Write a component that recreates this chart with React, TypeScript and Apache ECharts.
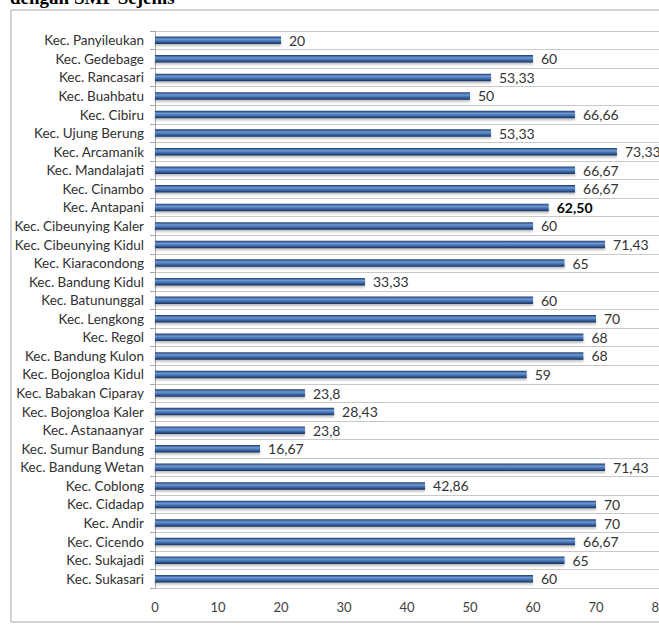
import React, { useEffect, useRef } from "react";
import * as echarts from "echarts";

const categories = [
  "Kec. Panyileukan", "Kec. Gedebage", "Kec. Rancasari", "Kec. Buahbatu", "Kec. Cibiru",
  "Kec. Ujung Berung", "Kec. Arcamanik", "Kec. Mandalajati", "Kec. Cinambo", "Kec. Antapani",
  "Kec. Cibeunying Kaler", "Kec. Cibeunying Kidul", "Kec. Kiaracondong", "Kec. Bandung Kidul", "Kec. Batununggal",
  "Kec. Lengkong", "Kec. Regol", "Kec. Bandung Kulon", "Kec. Bojongloa Kidul", "Kec. Babakan Ciparay",
  "Kec. Bojongloa Kaler", "Kec. Astanaanyar", "Kec. Sumur Bandung", "Kec. Bandung Wetan", "Kec. Coblong",
  "Kec. Cidadap", "Kec. Andir", "Kec. Cicendo", "Kec. Sukajadi", "Kec. Sukasari",
];
const values = [
  20, 60, 53.33, 50, 66.66,
  53.33, 73.33, 66.67, 66.67, 62.5,
  60, 71.43, 65, 33.33, 60,
  70, 68, 68, 59, 23.8,
  28.43, 23.8, 16.67, 71.43, 42.86,
  70, 70, 66.67, 65, 60,
];
const valueLabels = [
  "20", "60", "53,33", "50", "66,66",
  "53,33", "73,33", "66,67", "66,67", "62,50",
  "60", "71,43", "65", "33,33", "60",
  "70", "68", "68", "59", "23,8",
  "28,43", "23,8", "16,67", "71,43", "42,86",
  "70", "70", "66,67", "65", "60",
];
const boldIndex = 9;
const titleText = "dengan SMP Sejenis";

export default function App() {
  const ref = useRef<HTMLDivElement>(null);
  useEffect(() => {
    if (!ref.current) return;
    const chart = echarts.init(ref.current, null, { renderer: "svg" });
    const barColor = new echarts.graphic.LinearGradient(0, 0, 0, 1, [
      { offset: 0, color: "#1e3d70" },
      { offset: 0.35, color: "#6d98d3" },
      { offset: 0.65, color: "#3f6cae" },
      { offset: 1, color: "#172f58" },
    ]);
    chart.setOption({
      animation: false,
      backgroundColor: "#ffffff",
      graphic: [
        {
          type: "rect",
          shape: { x: 11, y: 10, width: 700, height: 612 },
          style: { fill: "none", stroke: "#c6c6c6", lineWidth: 1.5 },
          z: -1,
        },
        {
          type: "text",
          x: 10,
          y: -12,
          style: {
            text: titleText,
            font: "bold 19px 'Liberation Serif', serif",
            fill: "#000000",
          },
        },
      ],
      grid: {
        left: 155,
        right: 0,
        top: 31,
        bottom: 38,
        containLabel: false,
        outerBoundsMode: "none",
      },
      xAxis: {
        type: "value",
        min: 0,
        max: 80,
        interval: 10,
        axisLine: { show: false },
        axisTick: { show: false },
        splitLine: { show: false },
        axisLabel: {
          color: "#404040",
          fontFamily: "Lato",
          fontSize: 13,
          margin: 12,
          hideOverlap: false,
        },
      },
      yAxis: {
        type: "category",
        inverse: true,
        data: categories,
        axisLine: { show: true, lineStyle: { color: "#a8a8a8", width: 1 } },
        axisTick: { show: true, length: 5, lineStyle: { color: "#a8a8a8" } },
        splitLine: { show: true, lineStyle: { color: "#c8c8c8", width: 1.2 } },
        axisLabel: { color: "#303030", fontFamily: "Lato", fontSize: 13.5, margin: 11 },
      },
      series: [
        {
          type: "bar",
          barWidth: 7.5,
          data: values.map((v, i) =>
            i === boldIndex
              ? { value: v, label: { fontWeight: "bold", color: "#000" } }
              : v
          ),
          itemStyle: {
            color: barColor,
            shadowColor: "rgba(0,0,0,0.25)",
            shadowOffsetY: 2,
            shadowBlur: 2,
          },
          label: {
            show: true,
            position: "right",
            distance: 8,
            color: "#333333",
            fontFamily: "Lato",
            fontSize: 14,
            formatter: (p: any) => valueLabels[p.dataIndex],
          },
        },
      ],
    });
    return () => chart.dispose();
  }, []);
  return (
    <div
      ref={ref}
      style={{ position: "fixed", left: 0, top: 0, width: 659, height: 626 }}
    />
  );
}
